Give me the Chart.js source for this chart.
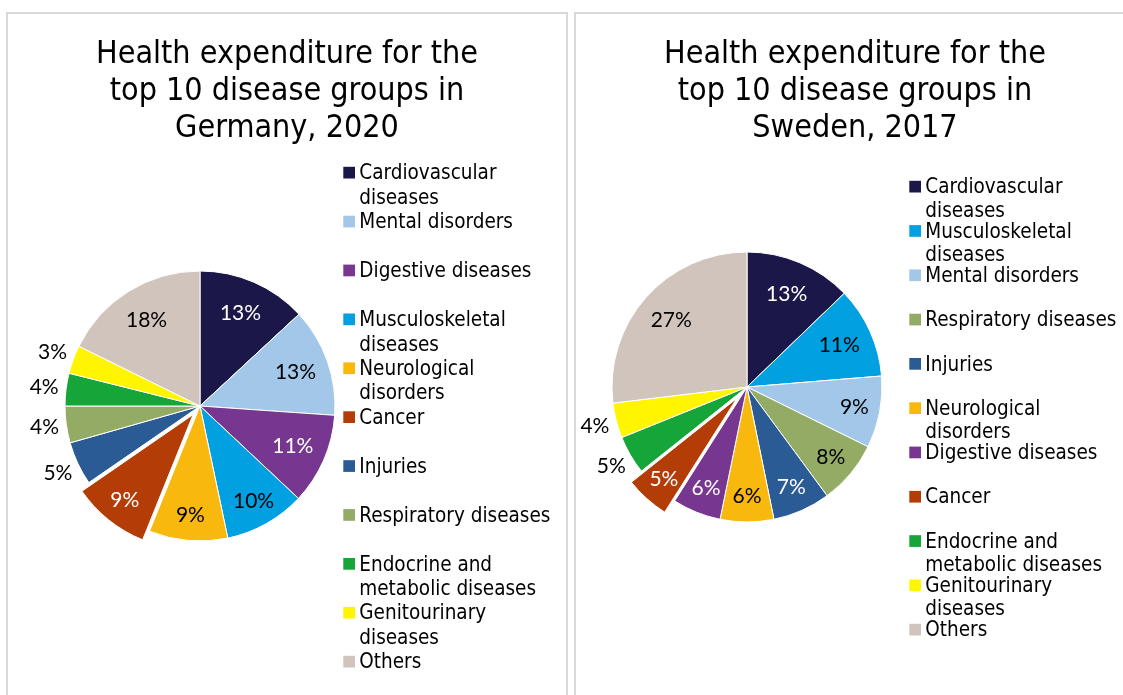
<!DOCTYPE html>
<html>
<head>
<meta charset="utf-8">
<title>Health expenditure by disease group</title>
<script src="https://cdn.jsdelivr.net/npm/chart.js"></script>
<style>
body{margin:0;background:#fff;width:1123px;height:695px;overflow:hidden;position:relative;}
.frame{position:absolute;top:12px;width:562px;height:700px;border:2px solid #d9d9d9;border-bottom:none;box-sizing:border-box;}
canvas{position:absolute;top:13px;}
</style>
</head>
<body>
<div class="frame" style="left:6px"></div>
<div class="frame" style="left:574px"></div>
<canvas id="deChart" width="560" height="682" style="left:7px"></canvas>
<canvas id="seChart" width="560" height="682" style="left:575px"></canvas>
<script>
// Germany 2020, clockwise from 12 o'clock (share of spending, %)
const deLabels=["Cardiovascular diseases","Mental disorders","Digestive diseases","Musculoskeletal diseases","Neurological disorders","Cancer","Injuries","Respiratory diseases","Endocrine and metabolic diseases","Genitourinary diseases","Others"];
const deValues=[13.1,13.0,10.9,9.7,9.4,9.3,5.2,4.4,3.9,3.4,17.7];
const deTitle=["Health expenditure for the","top 10 disease groups in","Germany, 2020"];
const deOutside=["Injuries","Respiratory diseases","Endocrine and metabolic diseases","Genitourinary diseases"];

// Sweden 2017
const seLabels=["Cardiovascular diseases","Musculoskeletal diseases","Mental disorders","Respiratory diseases","Injuries","Neurological disorders","Digestive diseases","Cancer","Endocrine and metabolic diseases","Genitourinary diseases","Others"];
const seValues=[12.8,10.9,8.6,7.6,6.9,6.4,5.8,5.3,4.6,4.2,26.9];
const seTitle=["Health expenditure for the","top 10 disease groups in","Sweden, 2017"];
const seOutside=["Endocrine and metabolic diseases","Genitourinary diseases"];

const colors={
"Cardiovascular diseases":"#1b1849",
"Mental disorders":"#a2c7e8",
"Digestive diseases":"#773690",
"Musculoskeletal diseases":"#00a0e1",
"Neurological disorders":"#f8b80e",
"Cancer":"#b43c07",
"Injuries":"#2a5b95",
"Respiratory diseases":"#94ab66",
"Endocrine and metabolic diseases":"#16a538",
"Genitourinary diseases":"#fff500",
"Others":"#d0c4bc"
};
const whiteText=["Cardiovascular diseases","Digestive diseases","Cancer","Injuries"];

const textFont='"DejaVu Sans Condensed","DejaVu Sans",sans-serif';

function wrap(ctx,text,maxW){
let lines=[],cur="";
text.split(" ").forEach(w=>{
let t=cur?cur+" "+w:w;
if(cur&&ctx.measureText(t).width>maxW){lines.push(cur);cur=w;}else cur=t;
});
lines.push(cur);
return lines;
}

function textPlugin(cfg){
return {
id:'pieText',
// pull the exploded slice out along its middle angle
afterDatasetsUpdate(chart){
chart.getDatasetMeta(0).data.forEach((arc,i)=>{
if(chart.data.labels[i]!==cfg.explode)return;
const mid=(arc.startAngle+arc.endAngle)/2;
arc.x+=Math.cos(mid)*cfg.explodeBy;
arc.y+=Math.sin(mid)*cfg.explodeBy;
});
},
afterDatasetsDraw(chart){
const ctx=chart.ctx,meta=chart.getDatasetMeta(0),ds=chart.data.datasets[0];
ctx.save();
ctx.font='21px Lato';
ctx.textAlign='center';
ctx.textBaseline='middle';
meta.data.forEach((arc,i)=>{
const p=arc.getProps(['x','y','startAngle','endAngle','outerRadius'],true);
const mid=(p.startAngle+p.endAngle)/2,name=chart.data.labels[i],v=ds.data[i];
const out=cfg.outside.includes(name);
const r=out?p.outerRadius+22:p.outerRadius*(v>=10?0.75:0.81);
ctx.fillStyle=(!out&&whiteText.includes(name))?'#fff':'#000';
ctx.fillText(Math.round(v)+'%',p.x+Math.cos(mid)*r,p.y+Math.sin(mid)*r);
});
ctx.restore();
},
afterDraw(chart){
const ctx=chart.ctx;
ctx.save();
// title
ctx.fillStyle='#000';
ctx.textAlign='center';
ctx.textBaseline='alphabetic';
ctx.font='32px '+textFont;
cfg.title.forEach((t,i)=>ctx.fillText(t,chart.width/2,50.3+i*36.7));
// legend
ctx.font='20.5px '+textFont;
ctx.textAlign='left';
chart.data.labels.forEach((name,i)=>{
const base=cfg.legend.top+i*cfg.legend.step;
ctx.fillStyle=colors[name];
ctx.fillRect(cfg.legend.x,base-12.5,11.7,11.7);
ctx.fillStyle='#000';
wrap(ctx,name,205).forEach((l,j)=>ctx.fillText(l,cfg.legend.x+16,base+j*cfg.legend.gap));
});
ctx.restore();
}
};
}

function makePie(id,labels,values,pad,cfg){
new Chart(document.getElementById(id),{
type:'pie',
data:{labels:labels,datasets:[{
data:values,
backgroundColor:labels.map(n=>colors[n]),
borderColor:'#fff',
borderWidth:1
}]},
options:{
responsive:false,
animation:false,
events:[],
radius:135,
clip:false,
layout:{padding:pad},
plugins:{legend:{display:false},tooltip:{enabled:false},title:{display:false}}
},
plugins:[textPlugin(cfg)]
});
}

makePie('deChart',deLabels,deValues,{left:0,right:174,top:143,bottom:39},
{title:deTitle,outside:deOutside,explode:"Cancer",explodeBy:11,legend:{x:336.3,top:166.3,step:48.9,gap:24.5}});
makePie('seChart',seLabels,seValues,{left:0,right:216,top:144,bottom:78},
{title:seTitle,outside:seOutside,explode:"Cancer",explodeBy:15,legend:{x:334.3,top:180.3,step:44.3,gap:23.4}});
</script>
</body>
</html>
